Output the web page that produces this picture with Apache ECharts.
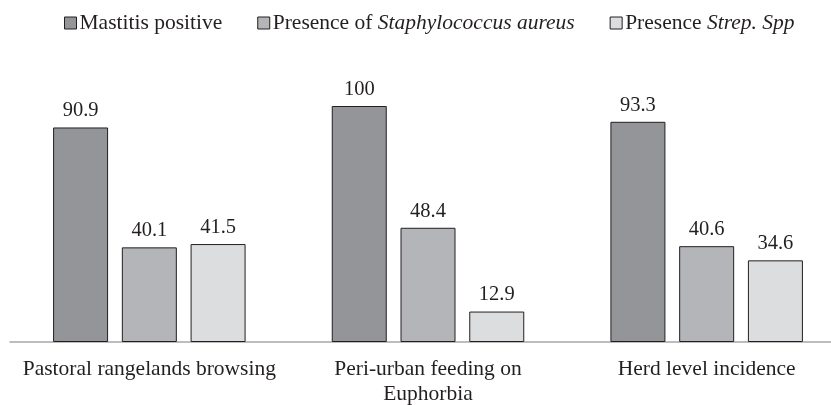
<!DOCTYPE html>
<html>
<head>
<meta charset="utf-8">
<script src="https://cdn.jsdelivr.net/npm/echarts@6/dist/echarts.min.js"></script>
<style>
  html, body { margin: 0; padding: 0; background: #fff; }
  #chart { width: 831px; height: 405px; }
</style>
</head>
<body>
<div id="chart"></div>
<script>
// data
var categories = ['Pastoral rangelands browsing', 'Peri-urban feeding on\nEuphorbia', 'Herd level incidence'];
var seriesNames = ['Mastitis positive', 'Presence of Staphylococcus aureus', 'Presence Strep. Spp'];
var mastitis = [90.9, 100, 93.3];
var staph = [40.1, 48.4, 40.6];
var strep = [41.5, 12.9, 34.6];

var fontFamily = '"Liberation Serif", "DejaVu Serif", serif';
var textColor = '#231f20';

// legend labels with italic parts
var legendRich = {
  'Mastitis positive': 'Mastitis positive',
  'Presence of Staphylococcus aureus': 'Presence of {i|Staphylococcus aureus}',
  'Presence Strep. Spp': 'Presence {i|Strep. Spp}'
};

var chart = echarts.init(document.getElementById('chart'));

function barSeries(name, data, color) {
  return {
    name: name,
    type: 'bar',
    data: data,
    barWidth: 55,
    barGap: '25%',
    itemStyle: {
      color: color,
      borderColor: '#231f20',
      borderWidth: 1
    },
    label: {
      show: true,
      position: 'top',
      distance: 6,
      color: textColor,
      fontFamily: fontFamily,
      fontSize: 20.5
    }
  };
}

var option = {
  backgroundColor: '#fff',
  animation: false,
  legend: {
    top: 7,
    left: 59,
    itemWidth: 12,
    itemHeight: 12,
    itemGap: 35,
    icon: 'rect',
    data: seriesNames,
    formatter: function (name) { return legendRich[name]; },
    itemStyle: { borderColor: '#231f20', borderWidth: 1 },
    textStyle: {
      color: textColor,
      fontFamily: fontFamily,
      fontSize: 21.5,
      padding: [0, 0, 0, -2],
      rich: {
        i: {
          fontStyle: 'italic',
          color: textColor,
          fontFamily: fontFamily,
          fontSize: 21.5
        }
      }
    }
  },
  grid: {
    left: 10,
    top: 106,
    width: 836,
    bottom: 63,
    outerBoundsMode: 'none'
  },
  xAxis: {
    type: 'category',
    data: categories,
    axisTick: { show: false },
    axisLine: { lineStyle: { color: '#a8a8a8', width: 1.5 } },
    axisLabel: {
      margin: 15,
      color: textColor,
      fontFamily: fontFamily,
      fontSize: 21.5,
      lineHeight: 25,
      interval: 0
    }
  },
  yAxis: {
    type: 'value',
    min: 0,
    max: 100,
    show: false
  },
  series: [
    barSeries(seriesNames[0], mastitis, '#939598'),
    barSeries(seriesNames[1], staph, '#b4b5b8'),
    barSeries(seriesNames[2], strep, '#dcddde')
  ]
};

chart.setOption(option);
</script>
</body>
</html>
